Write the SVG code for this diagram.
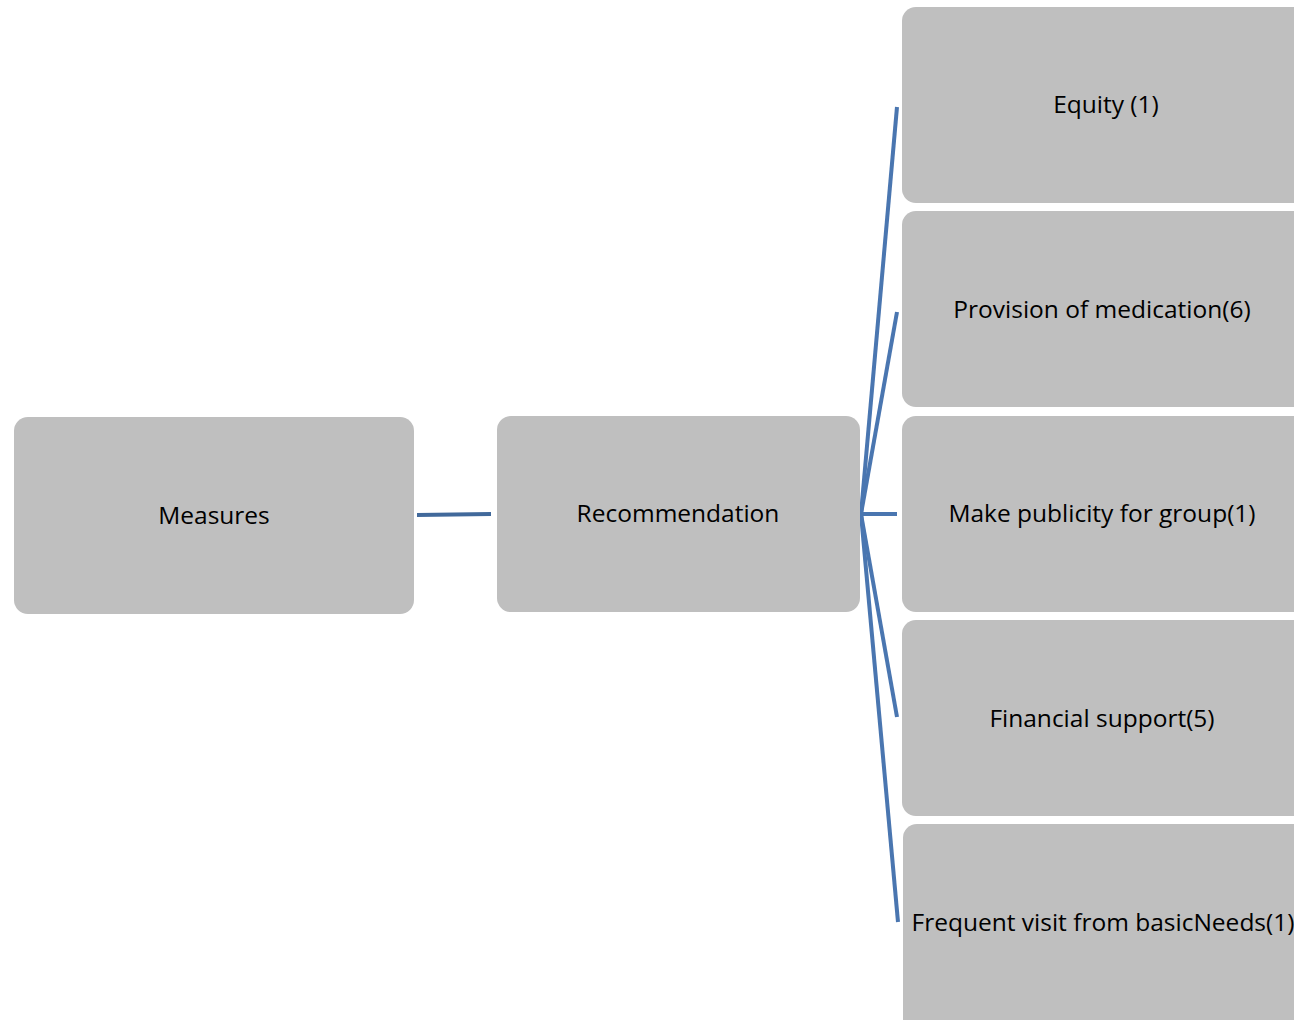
<svg xmlns="http://www.w3.org/2000/svg" width="1294" height="1020" viewBox="0 0 1294 1020">
<style>
.box{fill:#bfbfbf;}
.lbl{font-family:"Open Sans","Noto Sans",sans-serif;font-size:24.5px;fill:#000;text-anchor:middle;}
.conn{stroke:#4a76b0;stroke-width:4;fill:none;stroke-linecap:butt;}
</style>
<rect width="1294" height="1020" fill="#fff"/>
<g id="connectors">
<line class="conn" x1="417" y1="515" x2="491" y2="514" style="stroke:#41699b"/>
<line class="conn" x1="861" y1="514" x2="897" y2="107"/>
<line class="conn" x1="861" y1="514" x2="897" y2="312"/>
<line class="conn" x1="861" y1="514" x2="897" y2="514"/>
<line class="conn" x1="861" y1="514" x2="897" y2="717"/>
<line class="conn" x1="861" y1="514" x2="898" y2="922"/>
</g>
<g id="measures"><rect class="box" x="14" y="417" width="400" height="197" rx="14"/><text class="lbl" x="214" y="524">Measures</text></g>
<g id="recommendation"><rect class="box" x="497" y="416" width="363" height="196" rx="14"/><text class="lbl" x="678" y="522">Recommendation</text></g>
<g id="equity"><rect class="box" x="902" y="7" width="410" height="196" rx="14"/><text class="lbl" x="1106" y="113">Equity (1)</text></g>
<g id="provision"><rect class="box" x="902" y="211" width="410" height="196" rx="14"/><text class="lbl" x="1102" y="318">Provision of medication(6)</text></g>
<g id="publicity"><rect class="box" x="902" y="416" width="410" height="196" rx="14"/><text class="lbl" x="1102" y="522">Make publicity for group(1)</text></g>
<g id="financial"><rect class="box" x="902" y="620" width="410" height="196" rx="14"/><text class="lbl" x="1102" y="727">Financial support(5)</text></g>
<g id="frequent"><rect class="box" x="903" y="824" width="410" height="210" rx="14"/><text class="lbl" x="1103" y="931">Frequent visit from basicNeeds(1)</text></g>
</svg>
